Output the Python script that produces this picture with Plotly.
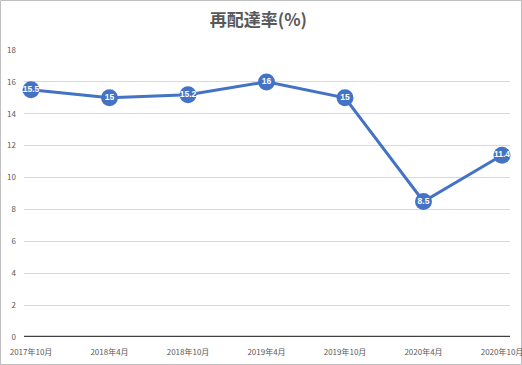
import plotly.graph_objects as go

categories = ["2017年10月", "2018年4月", "2018年10月", "2019年4月", "2019年10月", "2020年4月", "2020年10月"]
values = [15.5, 15, 15.2, 16, 15, 8.5, 11.4]
labels = ["15.5", "15", "15.2", "16", "15", "8.5", "11.4"]
y_ticks = [0, 2, 4, 6, 8, 10, 12, 14, 16, 18]

xs = list(range(len(categories)))

fig = go.Figure()
fig.add_trace(go.Scatter(
    x=xs, y=values, mode="lines+markers+text",
    text=labels, textposition="middle center",
    textfont=dict(color="white", size=8.5, family="Liberation Sans", weight="bold"),
    line=dict(color="#4472C4", width=3),
    marker=dict(color="#4472C4", size=17, line=dict(color="#4472C4", width=0)),
    cliponaxis=False, hoverinfo="skip",
))

W, H = 522, 365
L, R, T, B = 24, 12, 50, 28
pw, ph = W - L - R, H - T - B
k = (502 - 31) / 6
xmin = -(31 - L) / k
xmax = xmin + pw / k

fig.update_layout(
    width=W, height=H,
    margin=dict(l=L, r=R, t=T, b=B, autoexpand=False),
    paper_bgcolor="white", plot_bgcolor="white",
    showlegend=False,
    font=dict(family="Noto Sans CJK JP", color="#595959", size=8),
    title=dict(text="<b>再配達率(%)</b>", x=0.495, xanchor="center", y=1 - 20 / H, yanchor="middle",
               font=dict(size=17, color="#595959", family="Noto Sans CJK JP")),
    xaxis=dict(range=[xmin, xmax], tickvals=xs, ticktext=categories, showgrid=False,
               showline=False, zeroline=False, ticks="outside", ticklen=7,
               tickcolor="rgba(0,0,0,0)", automargin=False, ticklabeloverflow="allow",
               tickfont=dict(size=8, color="#595959")),
    yaxis=dict(range=[0, 18], tickvals=y_ticks, showgrid=True, gridcolor="#D9D9D9", gridwidth=1,
               zeroline=False, showline=False, ticks="", automargin=False,
               tickfont=dict(size=8, color="#595959"), ticklabelstandoff=7),
    shapes=[
        dict(type="line", xref="paper", yref="y", x0=0, x1=1, y0=0, y1=0,
             line=dict(color="#404040", width=2.5)),
        dict(type="rect", xref="paper", yref="paper",
             x0=(0.5 - L) / pw, x1=(W - 0.5 - L) / pw,
             y0=(H - B - (H - 0.5)) / ph, y1=(H - B - 0.5) / ph,
             line=dict(color="#BFBFBF", width=1), fillcolor="rgba(0,0,0,0)", layer="below"),
    ],
)

fig.write_html("out.html", config={"displayModeBar": False},
               post_script="document.body.style.margin='0';")
